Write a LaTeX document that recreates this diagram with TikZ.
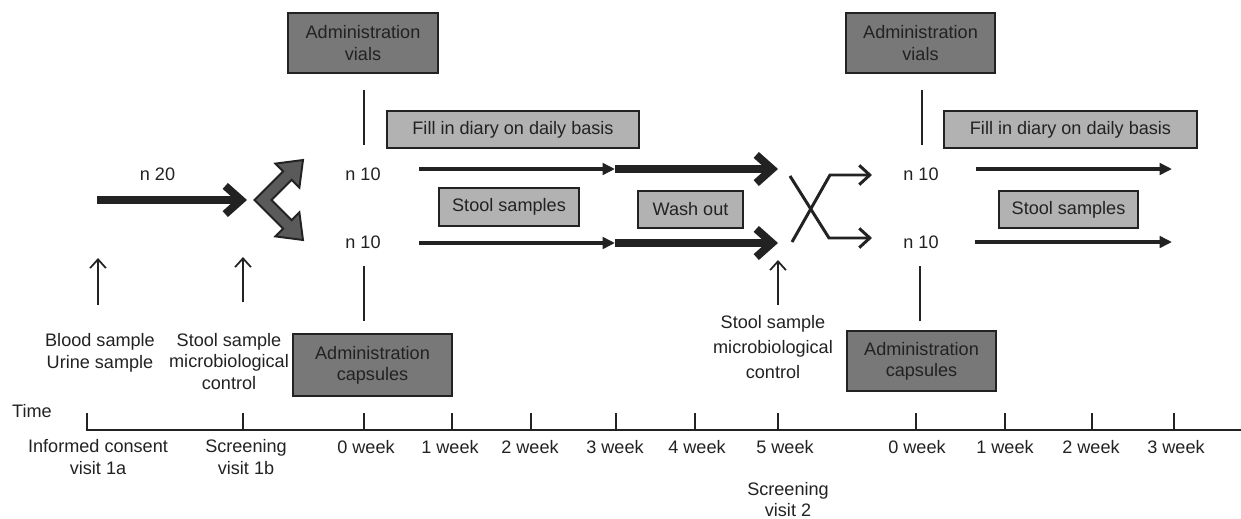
\documentclass[tikz,border=0pt]{standalone}
\usepackage{fontspec}
\setmainfont{Liberation Sans}
\usetikzlibrary{arrows.meta,calc}
\definecolor{ink}{HTML}{222222}
\definecolor{boxdark}{HTML}{787878}
\definecolor{boxlight}{HTML}{B2B2B2}
\definecolor{splitgray}{HTML}{5A5A5A}

\begin{document}
\begin{tikzpicture}[x=0.02cm, y=-0.02cm, ink,
        every node/.style={font=\fontsize{10.3}{12}\selectfont, text=ink},
        darkbox/.style={draw=ink, line width=1pt, fill=boxdark, align=center, inner sep=0pt},
        lightbox/.style={draw=ink, line width=1pt, fill=boxlight, inner sep=0pt},
        note/.style={align=center, inner sep=0pt},
        thinarrow/.style={line width=2pt, -{Triangle[length=7pt,width=6.5pt]}},
        thickarrow/.style={line width=4.5pt, -{Straight Barb[length=9pt,width=16pt]}},
        crossarrow/.style={line width=1.7pt, line join=miter, -{Straight Barb[length=6pt,width=11pt]}},
        uparrow/.style={line width=1pt, -{Straight Barb[length=5pt,width=9pt]}},
        axisline/.style={line width=1pt}]
        \useasboundingbox (0,0) rectangle (1241,518);

        % boxes
        \node[darkbox, minimum width=3cm, minimum height=1.2cm] (vialsA) at (363,43) {Administration\\vials};
        \node[darkbox, minimum width=3.18cm, minimum height=1.24cm] (capsA) at (372.5,365) {Administration\\capsules};
        \node[darkbox, minimum width=2.98cm, minimum height=1.2cm] (vialsB) at (920.5,43) {Administration\\vials};
        \node[darkbox, minimum width=2.98cm, minimum height=1.2cm] (capsB) at (921.5,361) {Administration\\capsules};
        \node[lightbox, minimum width=5.04cm, minimum height=0.74cm] (diaryA) at (513,129.5) {Fill in diary on daily basis};
        \node[lightbox, minimum width=5.06cm, minimum height=0.74cm] (diaryB) at (1070.5,129.5) {Fill in diary on daily basis};
        \node[lightbox, minimum width=2.8cm, minimum height=0.76cm] (stoolA) at (509,207) {Stool samples};
        \node[lightbox, minimum width=2.1cm, minimum height=0.74cm] (washout) at (690.5,209.5) {Wash out};
        \node[lightbox, minimum width=2.78cm, minimum height=0.74cm] (stoolB) at (1068.5,209.5) {Stool samples};

        \draw[axisline] ($(vialsA.south)+(1,16)$) -- ++(0,55);
        \draw[axisline] ($(capsA.north)+(-8.5,-12)$) -- ++(0,-55);
        \draw[axisline] ($(vialsB.south)+(1.5,16)$) -- ++(0,55);
        \draw[axisline] ($(capsB.north)+(-1.5,-9)$) -- ++(0,-55);

        % groups
        \node[anchor=base] (n20) at (157.5,180) {n 20};
        \node[anchor=base] (n10a) at (363,180) {n 10};
        \node[anchor=base] (n10b) at (363,248) {n 10};
        \node[anchor=base] (n10c) at (921,180) {n 10};
        \node[anchor=base] (n10d) at (921,248) {n 10};

        \coordinate (start) at (97,200);
        \coordinate (split) at (247,200);
        \draw[thickarrow] (start) -- (split);
        \filldraw[fill=splitgray, draw=ink, line width=1.1pt, line join=miter]
            (254.6,200) -- (283.2,171.4) -- (275.4,163.6) -- (303,160) -- (299.4,187.6)
            -- (291.6,179.8) -- (271.4,200) -- (291.6,220.2) -- (299.4,212.4)
            -- (303,240) -- (275.4,236.4) -- (283.2,228.6) -- cycle;

        \coordinate (diaryin) at (419,169);
        \coordinate (washin) at (615,169);
        \coordinate (crossin) at (778,169);
        \coordinate (stoolin) at (419,243);
        \coordinate (washin2) at (615,243);
        \coordinate (crossin2) at (778,243);
        \draw[thinarrow] (diaryin) -- (washin);
        \draw[thickarrow] (washin) -- (crossin);
        \draw[thinarrow] (stoolin) -- (washin2);
        \draw[thickarrow] (washin2) -- (crossin2);

        \draw[crossarrow] (790,176) -- (829,238) -- (872,238);
        \draw[crossarrow] (792,242) -- (830,175) -- (872,175);

        \coordinate (diaryout) at (976,169);
        \coordinate (stoolout) at (975,242);
        \draw[thinarrow] (diaryout) -- (1172,169);
        \draw[thinarrow] (stoolout) -- (1172,242);

        % samples
        \draw[uparrow] (98,305) -- (98,258);
        \draw[uparrow] (243,302) -- (243,257);
        \draw[uparrow] (778,305) -- (778,260);
        \node[note, anchor=base] (bloodurine) at (100,368) {Blood sample\\Urine sample};
        \node[note, anchor=base] (microA) at (229,389) {Stool sample\\microbiological\\control};
        \node[note, anchor=base, font=\fontsize{10.3}{14.2}\selectfont] (microB) at (773,378) {Stool sample\\microbiological\\control};

        % time axis
        \node[anchor=base] (time) at (32,417) {Time};
        \draw[axisline] (87,413) -- (87,430) -- (1241,430);
        \foreach \x in {243,364,452,531,616,695,778,916,1005,1092,1174}
            \draw[axisline] (\x,413) -- (\x,430);
        \node[note, anchor=base] (consent) at (98,474) {Informed consent\\visit 1a};
        \node[note, anchor=base] (visit1b) at (246,474) {Screening\\visit 1b};
        \foreach \x/\lab in {366/0 week, 450/1 week, 530/2 week, 615/3 week, 697/4 week, 785/5 week,
                917/0 week, 1005/1 week, 1091/2 week, 1176/3 week}
            \node[note, anchor=base] (lab\x) at (\x,453) {\lab};
        \node[note, anchor=base, font=\fontsize{10.3}{11.4}\selectfont] (visit2) at (788,516) {Screening\\visit 2};
\end{tikzpicture}
\end{document}
